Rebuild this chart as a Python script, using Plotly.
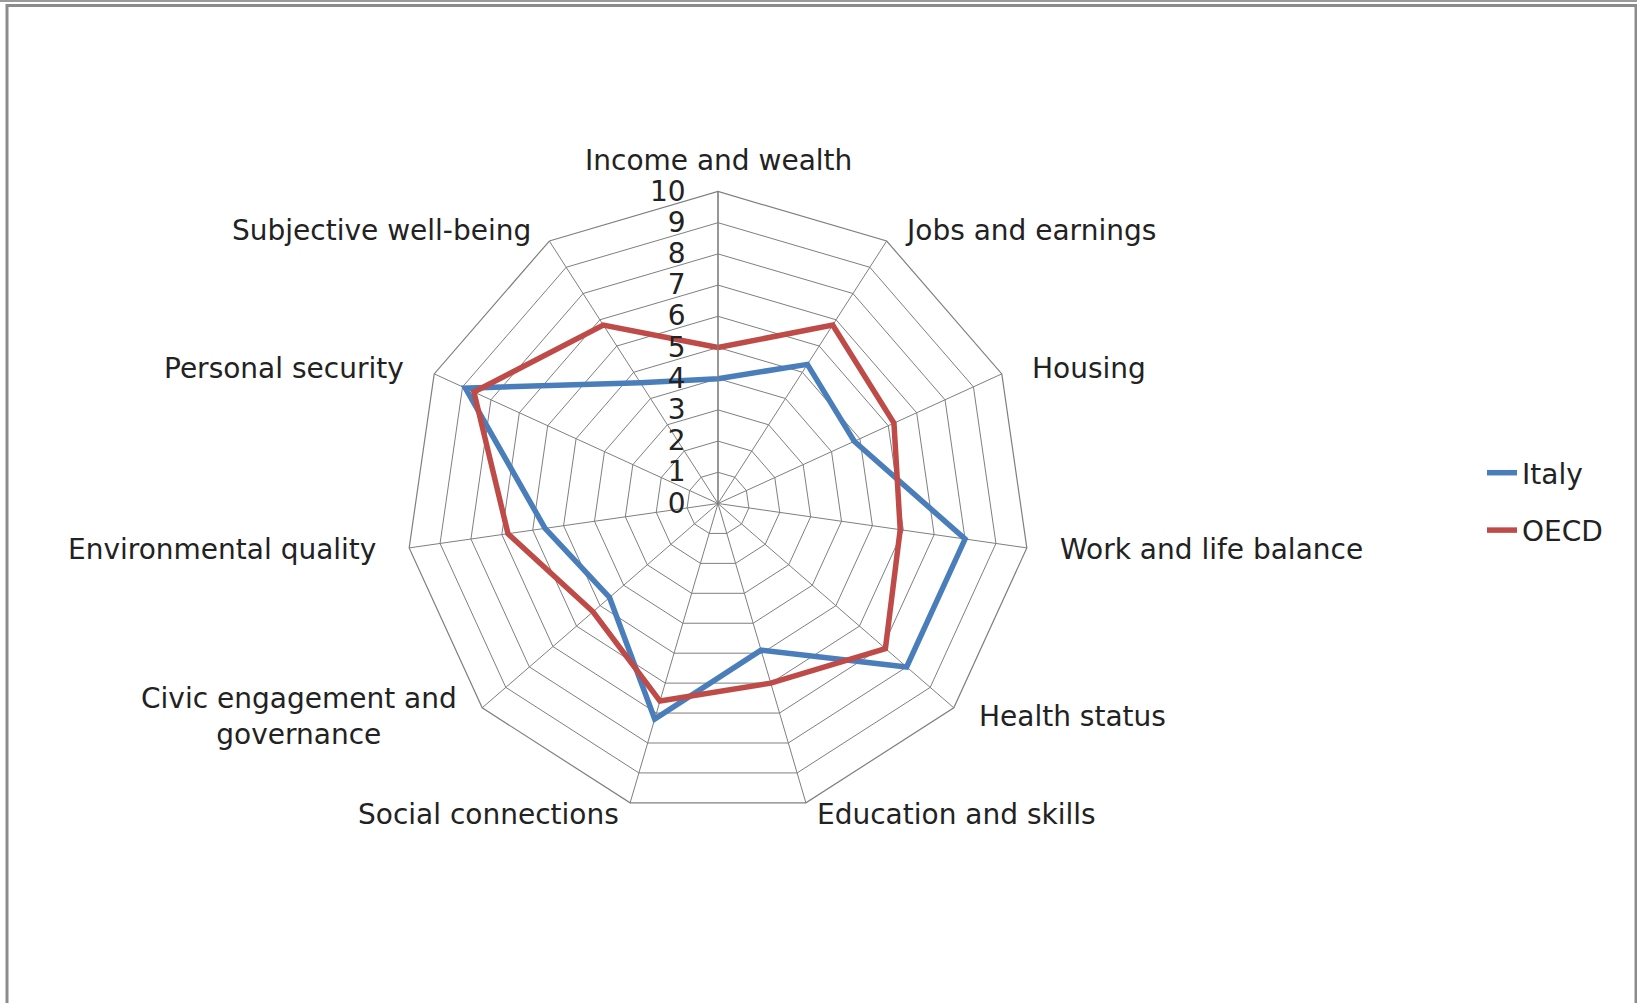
import math
import plotly.graph_objects as go

# categories, clockwise from the top
categories = ["Income and wealth", "Jobs and earnings", "Housing", "Work and life balance",
              "Health status", "Education and skills", "Social connections",
              "Civic engagement and<br>governance", "Environmental quality",
              "Personal security", "Subjective well-being"]

italy = [4.0, 5.3, 4.8, 8.0, 8.0, 4.9, 7.2, 4.6, 5.6, 8.9, 4.6]
oecd = [5.0, 6.8, 6.2, 5.9, 7.1, 6.0, 6.6, 5.3, 6.8, 8.6, 6.8]

radial_ticks = list(range(0, 11))

W, H = 1637, 1003
cx, cy, R = 718, 503.5, 312

grid = "#7f7f7f"
font = dict(family="DejaVu Sans", size=28, color="#222222")

fig = go.Figure()
fig.add_trace(go.Scatterpolar(r=italy + italy[:1], theta=categories + categories[:1],
                              mode="lines", name="Italy", legendgroup="a",
                              line=dict(color="#4A7EBB", width=5.5)))
fig.add_trace(go.Scatterpolar(r=oecd + oecd[:1], theta=categories + categories[:1],
                              mode="lines", name="OECD", legendgroup="b",
                              line=dict(color="#BE4B48", width=5.5)))

# category labels placed Excel-style around the outer polygon
annotations = []
n = len(categories)
for i, name in enumerate(categories):
    a = math.radians(i * 360 / n)
    s, c = math.sin(a), math.cos(a)
    px = cx + R * s + 31 * s
    py = cy - R * c - 12.5 * c
    if abs(s) < 0.1:
        xa, ya = "center", "bottom"
    else:
        xa, ya = ("left" if s > 0 else "right"), "middle"
    annotations.append(dict(text=name, x=px / W, y=1 - py / H, xref="paper", yref="paper",
                            xanchor=xa, yanchor=ya, align="center", showarrow=False,
                            font=font))

fig.update_layout(
    width=W, height=H,
    margin=dict(l=0, r=0, t=0, b=0),
    paper_bgcolor="white",
    font=font,
    showlegend=True,
    legend=dict(x=1482 / W, y=1 - 448 / H, xanchor="left", yanchor="top",
                font=font, tracegroupgap=18, bgcolor="rgba(0,0,0,0)"),
    polar=dict(
        domain=dict(x=[(cx - R) / W, (cx + R) / W], y=[1 - (cy + R) / H, 1 - (cy - R) / H]),
        bgcolor="white",
        gridshape="linear",
        radialaxis=dict(range=[0, 10], tickvals=radial_ticks, angle=90, tickangle=90,
                        side="counterclockwise",
                        showline=True, linecolor=grid, linewidth=1.2,
                        gridcolor=grid, gridwidth=1.2,
                        ticks="outside", ticklen=22, tickcolor="rgba(0,0,0,0)",
                        tickfont=font),
        angularaxis=dict(direction="clockwise", rotation=90,
                         showline=True, linecolor=grid, linewidth=1.2,
                         gridcolor=grid, gridwidth=1.2,
                         showticklabels=False, ticks=""),
    ),
    annotations=annotations,
    shapes=[
        dict(type="line", xref="paper", yref="paper", x0=0, x1=1, y0=1 - 1 / H, y1=1 - 1 / H,
             line=dict(color="#9a9a9a", width=2)),
        dict(type="rect", xref="paper", yref="paper", x0=7 / W, x1=1636 / W,
             y0=-0.02, y1=1 - 5.5 / H, line=dict(color="#8c8c8c", width=3)),
    ],
)

fig.write_html("out.html", config={"displayModeBar": False},
               post_script="document.body.style.margin='0';")
